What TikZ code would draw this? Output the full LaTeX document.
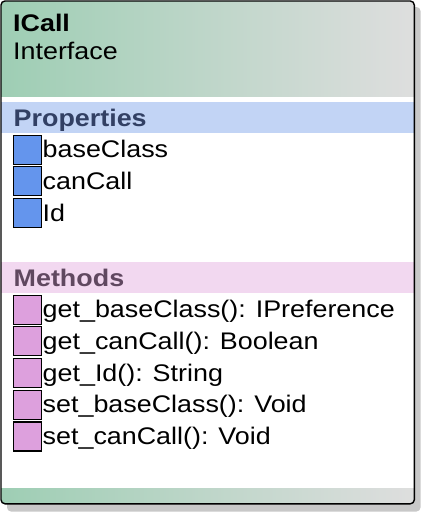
\documentclass[tikz,border=0pt]{standalone}
\usepackage{fontspec}
\setmainfont{Liberation Sans}[FakeStretch=1.12]
\definecolor{hdgreen}{RGB}{158,206,180}
\definecolor{hdgray}{RGB}{222,222,222}
\definecolor{shadowgray}{RGB}{200,200,200}
\definecolor{propband}{RGB}{194,212,245}
\definecolor{proptext}{RGB}{50,64,100}
\definecolor{methband}{RGB}{242,216,240}
\definecolor{methtext}{RGB}{96,72,96}
\definecolor{propblue}{RGB}{100,149,237}
\definecolor{methplum}{RGB}{221,160,221}
\begin{document}
\begin{tikzpicture}[x=1pt,y=-1pt,
  lbl/.style={anchor=base west, inner sep=0pt, font=\fontsize{24}{28}\selectfont},
  propicon/.style={draw=black, line width=1.2pt, fill=propblue, minimum width=28pt, minimum height=29pt, inner sep=0pt, anchor=south west},
  methicon/.style={propicon, fill=methplum}]
\useasboundingbox (0,0) rectangle (421,512);
% shadow and box
\fill [shadowgray, rounded corners=4pt] (7,7) rectangle (420.5,511.5);
\begin{scope}
\clip [rounded corners=4pt] (1,1) rectangle (414.3,503.8);
\fill [white] (1,1) rectangle (414.3,503.8);
\shade [left color=hdgreen, right color=hdgray] (1,1) rectangle (414.3,96);
\fill [propband] (1,102) rectangle (414.3,133);
\fill [methband] (1,262.3) rectangle (414.3,293.3);
\shade [left color=hdgreen, right color=hdgray] (1,488) rectangle (414.3,503.8);
\end{scope}
\draw [line width=1.4pt, rounded corners=4pt] (1,1) rectangle (414.3,503.8);
% header
\node [lbl] (title) at (13,31) {\bfseries ICall};
\node [lbl] (stereo) at (13,59.3) {Interface};
% properties
\node [lbl, text=proptext] (props) at (13.5,126.7) {\bfseries Properties};
\node [propicon] (pi1) at (12.5,164.7) {};
\node [lbl] (p1) at (42.5,157.7) {baseClass};
\node [propicon] (pi2) at (12.5,196.4) {};
\node [lbl] (p2) at (42.5,189.4) {canCall};
\node [propicon] (pi3) at (12.5,228) {};
\node [lbl] (p3) at (42.5,221) {Id};
% methods
\node [lbl, text=methtext] (meths) at (13.5,286.7) {\bfseries Methods};
\node [methicon] (mi1) at (12.5,324.7) {};
\node [lbl] (m1) at (42.5,317.7) {get\_baseClass(): IPreference};
\node [methicon] (mi2) at (12.5,356.4) {};
\node [lbl] (m2) at (42.5,349.4) {get\_canCall(): Boolean};
\node [methicon] (mi3) at (12.5,388) {};
\node [lbl] (m3) at (42.5,381) {get\_Id(): String};
\node [methicon] (mi4) at (12.5,419.8) {};
\node [lbl] (m4) at (42.5,412.8) {set\_baseClass(): Void};
\node [methicon] (mi5) at (12.5,451.5) {};
\node [lbl] (m5) at (42.5,444.5) {set\_canCall(): Void};
\end{tikzpicture}
\end{document}
